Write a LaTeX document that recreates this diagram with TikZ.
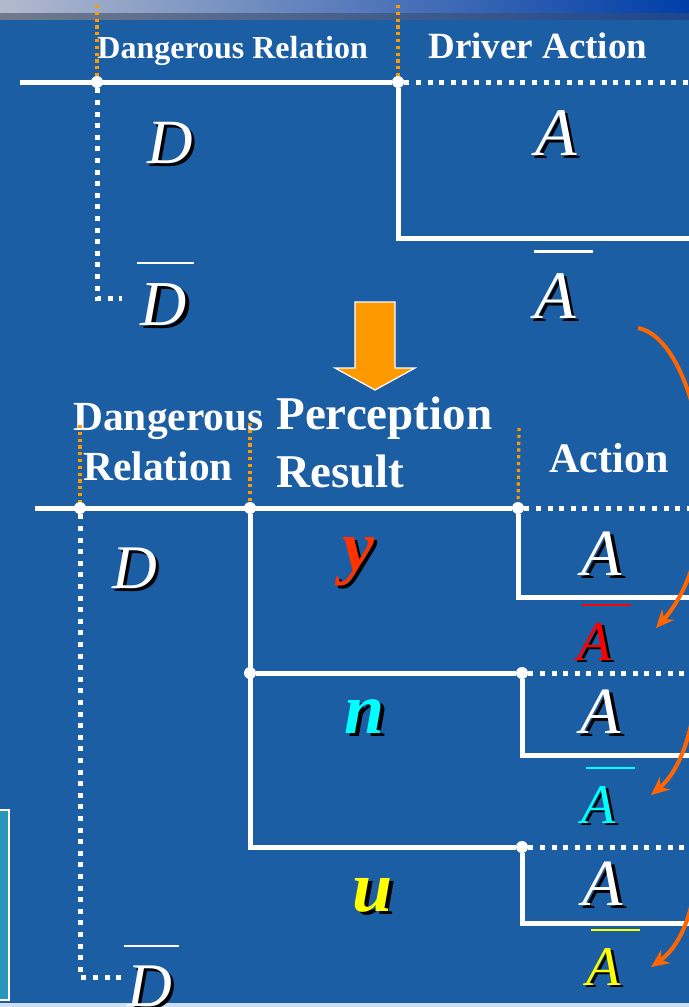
\documentclass[tikz,border=0pt]{standalone}
\usepackage{fontspec}
\setmainfont{Liberation Serif}
\usetikzlibrary{arrows.meta}

\definecolor{slide}{RGB}{27,94,164}
\definecolor{guideor}{RGB}{255,153,0}
\definecolor{flowor}{RGB}{255,102,0}
\definecolor{yred}{RGB}{255,51,0}
\definecolor{ncyan}{RGB}{0,255,255}
\definecolor{uyellow}{RGB}{255,255,0}
\definecolor{sidebox}{RGB}{40,150,185}
\definecolor{stripL}{RGB}{178,186,206}
\definecolor{stripM}{RGB}{118,152,210}
\definecolor{stripR}{RGB}{0,62,168}
\definecolor{bandL}{RGB}{112,122,140}
\definecolor{bandR}{RGB}{30,70,140}
\definecolor{edge}{RGB}{205,222,240}

% letter with a black drop shadow
\newcommand\shadowed[2]{\makebox[0pt][l]{\kern0.05em\raisebox{-0.05em}{\color{black}#2}}{\color{#1}#2}}
% negated letter: bar set well above it, shifted right by #1/2
\newcommand\barred[3][0.4em]{\vbox{\offinterlineskip\halign{\hfil##\hfil\cr
  \kern#1{\color{#2}\rule{0.88em}{0.035em}}\cr\noalign{\kern0.3em}
  \shadowed{#2}{#3}\cr}}}

\begin{document}
\begin{tikzpicture}[x=0.5pt, y=-0.5pt,
  wire/.style={white, line width=2.5pt},
  dotwire/.style={white, line width=2.5pt, dash pattern=on 2.5pt off 3.3pt},
  guide/.style={guideor, line width=1.6pt, dash pattern=on 1.6pt off 1.8pt},
  junction/.style={circle, fill=white, inner sep=0pt, minimum size=6pt},
  heading/.style={white, inner sep=0pt, anchor=base west},
  sym/.style={inner sep=0pt, anchor=base},
  big/.style={font=\fontsize{33}{33}\selectfont\itshape},
  small/.style={font=\fontsize{28}{28}\selectfont\itshape},
  answer/.style={font=\fontsize{36}{36}\selectfont\bfseries\itshape},
  flow/.style={flowor, line width=2pt, -{Stealth[length=9pt, width=8pt]}}]
\useasboundingbox (0,0) rectangle (689,1007);
\clip (0,0) rectangle (689,1007);
\fill[slide] (0,0) rectangle (689,1007);

% slide title strip and bottom edge
\shade[left color=stripL, middle color=stripM, right color=stripR] (0,0) rectangle (689,13);
\shade[left color=bandL, right color=bandR] (0,13) rectangle (689,19);
\fill[edge] (0,1003) rectangle (689,1007);
\draw[white, line width=1pt, fill=sidebox] (-5,810) rectangle (9,1000);

%%% upper tree
\node[heading, font=\fontsize{16}{16}\selectfont\bfseries] (relTop) at (97,58) {Dangerous Relation};
\node[heading, font=\fontsize{18.5}{18.5}\selectfont\bfseries] (actTop) at (428,58) {Driver Action};

\node[junction] (jtl) at (97,82) {};
\node[junction] (jtr) at (398,82) {};
\coordinate (tleft) at (20,82);
\coordinate (tright) at (700,82);
\coordinate (tdend) at (122,298);
\coordinate (tabox) at (700,238);
\coordinate (gtl) at (97,5);
\coordinate (gtr) at (398,5);

\draw[wire] (tleft) -- (jtr);
\draw[dotwire] (jtr) -- (tright);
\draw[dotwire] (jtl) |- (tdend);
\draw[wire] (jtr) |- (tabox);
\draw[guide] (gtl) -- (jtl);
\draw[guide] (gtr) -- (jtr);

\node[sym, font=\fontsize{31.5}{32}\selectfont\itshape] (dtop) at (170,163) {\shadowed{white}{D}};
\node[sym, font=\fontsize{34}{34}\selectfont\itshape] (atop) at (556,155) {\shadowed{white}{A}};
\node[sym, font=\fontsize{32}{32}\selectfont\itshape] (dbartop) at (164,325) {\barred[0.05em]{white}{D}};
\node[sym, font=\fontsize{34}{34}\selectfont\itshape] (abartop) at (555,318) {\barred[0.25em]{white}{A}};

% block arrow between the two trees
\fill[guideor, draw=white, line width=0.6pt] (355,302) -- (395,302) -- (395,368) -- (415,368)
  -- (375,390) -- (335,368) -- (355,368) -- cycle;

%%% lower tree
\node[heading, font=\fontsize{20.7}{21}\selectfont\bfseries] (relA) at (73,430) {Dangerous};
\node[heading, font=\fontsize{20.7}{21}\selectfont\bfseries] (relB) at (83,480) {Relation};
\node[heading, font=\fontsize{23.5}{24}\selectfont\bfseries] (percA) at (276,429) {Perception};
\node[heading, font=\fontsize{23.5}{24}\selectfont\bfseries] (percB) at (276,487) {Result};
\node[heading, font=\fontsize{21}{21}\selectfont\bfseries] (actBot) at (549,472) {Action};

\node[junction] (jb1) at (80,508) {};
\node[junction] (jb2) at (250,508) {};
\node[junction] (jb3) at (518,508) {};
\node[junction] (jn) at (250,673) {};
\node[junction] (jn2) at (522,673) {};
\node[junction] (ju) at (522,847) {};
\coordinate (bleft) at (35,508);
\coordinate (bright) at (700,508);
\coordinate (bdend) at (122,977);
\coordinate (ybox) at (700,597);
\coordinate (nright) at (700,673);
\coordinate (nbox) at (700,755);
\coordinate (uright) at (700,847);
\coordinate (ubox) at (700,923);
\coordinate (gb1) at (80,425);
\coordinate (gb2) at (250,423);
\coordinate (gb3) at (519,428);

\draw[wire] (bleft) -- (jb3);
\draw[dotwire] (jb3) -- (bright);
\draw[dotwire] (jb1) |- (bdend);
\draw[wire] (jb3) |- (ybox);
\draw[wire] (jb2) |- (ju);
\draw[wire] (jn) -- (jn2);
\draw[dotwire] (jn2) -- (nright);
\draw[wire] (jn2) |- (nbox);
\draw[dotwire] (ju) -- (uright);
\draw[wire] (ju) |- (ubox);
\draw[guide] (gb1) -- (jb1);
\draw[guide] (gb2) -- (jb2);
\draw[guide] (gb3) -- (jb3);

\node[sym, font=\fontsize{31}{31}\selectfont\itshape] (dbot) at (135,588) {\shadowed{white}{D}};
\node[sym, font=\fontsize{31}{31}\selectfont\itshape] (dbarbot) at (150,1006) {\barred[0.05em]{white}{D}};

\node[sym, answer] (yes) at (358,570) {\shadowed{yred}{y}};
\node[sym, answer] (no) at (365,733) {\shadowed{ncyan}{n}};
\node[sym, answer] (unk) at (373,911) {\shadowed{uyellow}{u}};

\node[sym, big] (ay) at (602,575) {\shadowed{white}{A}};
\node[sym, big] (an) at (601,733) {\shadowed{white}{A}};
\node[sym, big] (au) at (603,905) {\shadowed{white}{A}};
\node[sym, small] (nay) at (595,660) {\barred{red}{A}};
\node[sym, small] (nan) at (599,823) {\barred{ncyan}{A}};
\node[sym, small] (nau) at (604,985) {\barred{uyellow}{A}};

% curved arrows leading to the negated actions
\coordinate (f1s) at (638,328);
\coordinate (f1e) at (656,628);
\coordinate (f2s) at (695,700);
\coordinate (f2e) at (651,795);
\coordinate (f3s) at (695,885);
\coordinate (f3e) at (651,967);
\draw[flow] (f1s) .. controls (700,340) and (735,540) .. (f1e);
\draw[flow] (f2s) .. controls (690,745) and (675,775) .. (f2e);
\draw[flow] (f3s) .. controls (690,925) and (675,950) .. (f3e);
\end{tikzpicture}
\end{document}
